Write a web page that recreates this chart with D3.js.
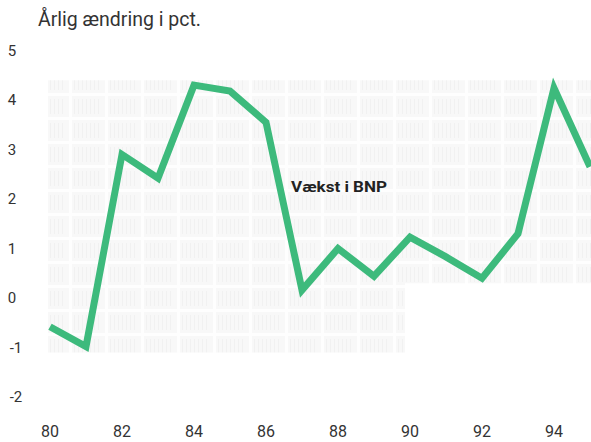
<!DOCTYPE html>
<html><head><meta charset="utf-8">
<script src="https://cdn.jsdelivr.net/npm/d3@7"></script>
<style>body{margin:0;background:#fff}svg{display:block}</style>
</head><body>
<script>
const years = [80,81,82,83,84,85,86,87,88,89,90,91,92,93,94,95];
const growth = [-0.58,-0.98,2.9,2.42,4.3,4.18,3.55,0.16,1.0,0.44,1.23,0.83,0.4,1.3,4.24,2.65];
const yTicks = [5,4,3,2,1,0,-1,-2];
const xTicks = [80,82,84,86,88,90,92,94];
const title = "Årlig ændring i pct.";
const seriesLabel = "Vækst i BNP";

const W=591,H=442;
const svg=d3.select("body").append("svg").attr("width",W).attr("height",H);
const x=d3.scaleLinear().domain([80,95]).range([50,590]);
const y=d3.scaleLinear().domain([-2,5]).range([397,50.5]);

// faint textured background region
const defs=svg.append("defs");
const pat=defs.append("pattern").attr("id","tex").attr("patternUnits","userSpaceOnUse").attr("width",36).attr("height",24);
pat.append("rect").attr("width",36).attr("height",24).attr("fill","#f8f8f8");
pat.append("rect").attr("x",33).attr("width",3).attr("height",24).attr("fill","#fefefe");
pat.append("rect").attr("y",21).attr("width",36).attr("height",3).attr("fill","#fefefe");
for(let i=2;i<30;i+=4) pat.append("rect").attr("x",i).attr("y",3).attr("width",1).attr("height",15).attr("fill","#f1f1f1");
svg.append("path")
  .attr("d",`M48,${y(4.4)}H591V${y(0.3)}H405V${y(-1.1)}H48Z`)
  .attr("fill","url(#tex)");

const g=svg.append("g").attr("font-family","Roboto, 'Liberation Sans', sans-serif").attr("fill","#333");
g.selectAll(".yt").data(yTicks).join("text")
  .attr("x",d=>d<0?16:12).attr("y",d=>y(d)).attr("dy","0.35em")
  .attr("text-anchor","middle").attr("font-size",15).text(d=>d<0?"-"+Math.abs(d):d);
g.selectAll(".xt").data(xTicks).join("text")
  .attr("x",d=>x(d)).attr("y",437).attr("text-anchor","middle").attr("font-size",16).text(d=>d);

svg.append("text").attr("x",38).attr("y",26).attr("font-family","Roboto, 'Liberation Sans', sans-serif")
  .attr("font-size",20).attr("fill","#333").attr("textLength",163).attr("lengthAdjust","spacingAndGlyphs").text(title);

svg.append("path").datum(years.map((d,i)=>[d,growth[i]]))
  .attr("d",d3.line().x(d=>x(d[0])).y(d=>y(d[1])))
  .attr("fill","none").attr("stroke","#3dba7c").attr("stroke-width",7).attr("stroke-linejoin","miter");

svg.append("text").attr("x",291).attr("y",192).attr("font-family","Roboto, 'Liberation Sans', sans-serif")
  .attr("font-weight","bold").attr("font-size",15).attr("fill","#222")
  .attr("textLength",96).attr("lengthAdjust","spacingAndGlyphs").text(seriesLabel);
</script>
</body></html>
